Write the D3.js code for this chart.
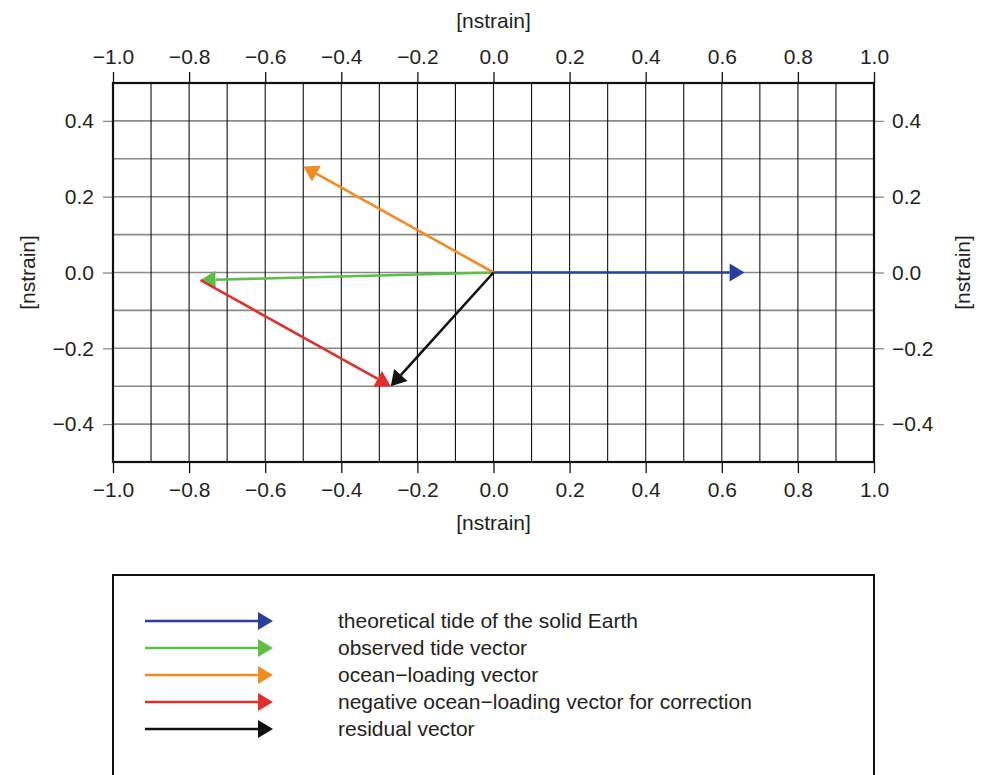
<!DOCTYPE html>
<html lang="en">
<head>
    <meta charset="UTF-8">
    <title>Tide vectors</title>
    <script src="https://cdn.jsdelivr.net/npm/d3@7"></script>
    <style>
        body { margin: 0; background: #fff; }
        svg text { font-family: "Liberation Sans", Arial, sans-serif; fill: #231f20; }
    </style>
</head>
<body>
    <svg id="main" width="982" height="775"></svg>
    <script>
        // vectors, in nstrain
        const vectorNames = [
            'theoretical tide of the solid Earth',
            'observed tide vector',
            'ocean\u2212loading vector',
            'negative ocean\u2212loading vector for correction',
            'residual vector'
        ];
        const vectorColors = ['#2b3f9c', '#5dbf45', '#f28b20', '#e0302a', '#111111'];
        const xStart = [0, 0, 0, -0.77, 0];
        const yStart = [0, 0, 0, -0.02, 0];
        const xEnd = [0.66, -0.77, -0.50, -0.27, -0.27];
        const yEnd = [0, -0.02, 0.28, -0.30, -0.30];

        const xTicks = [-1.0, -0.8, -0.6, -0.4, -0.2, 0.0, 0.2, 0.4, 0.6, 0.8, 1.0];
        const yTicks = [-0.4, -0.2, 0.0, 0.2, 0.4];
        const xGrid = d3.range(-9, 10).map(d => d / 10);
        const yGrid = d3.range(-4, 5).map(d => d / 10);
        const axisTitle = '[nstrain]';

        const svg = d3.select('#main');
        const pLeft = 113, pRight = 874, pTop = 83, pBottom = 462;
        const fs = 21;

        const x = d3.scaleLinear().domain([-1, 1]).range([pLeft, pRight]);
        const y = d3.scaleLinear().domain([-0.5, 0.5]).range([pBottom, pTop]);
        const fmt = d3.format('.1f');

        // grid
        svg.append('g').selectAll('line').data(yGrid).join('line')
            .attr('x1', pLeft).attr('x2', pRight)
            .attr('y1', d => y(d)).attr('y2', d => y(d))
            .attr('stroke', '#8a8a8a').attr('stroke-width', 1.6);
        svg.append('g').selectAll('line').data(xGrid).join('line')
            .attr('x1', d => x(d)).attr('x2', d => x(d))
            .attr('y1', pTop).attr('y2', pBottom)
            .attr('stroke', '#111').attr('stroke-width', 1.1);

        // axes
        function styleAxis(g, col) {
            g.select('.domain').remove();
            g.selectAll('.tick line').attr('stroke', col).attr('stroke-width', 1.3);
            g.selectAll('.tick text').attr('font-size', fs).attr('fill', '#231f20')
                .style('font-family', '"Liberation Sans", Arial, sans-serif');
        }
        svg.append('g').attr('transform', `translate(0,${pTop})`)
            .call(d3.axisTop(x).tickValues(xTicks).tickFormat(fmt).tickSize(11).tickPadding(8))
            .call(g => styleAxis(g, '#111'));
        svg.append('g').attr('transform', `translate(0,${pBottom})`)
            .call(d3.axisBottom(x).tickValues(xTicks).tickFormat(fmt).tickSize(11).tickPadding(9))
            .call(g => styleAxis(g, '#111'));
        svg.append('g').attr('transform', `translate(${pLeft},0)`)
            .call(d3.axisLeft(y).tickValues(yTicks).tickFormat(fmt).tickSize(10).tickPadding(9))
            .call(g => styleAxis(g, '#8a8a8a'));
        svg.append('g').attr('transform', `translate(${pRight},0)`)
            .call(d3.axisRight(y).tickValues(yTicks).tickFormat(fmt).tickSize(10).tickPadding(8))
            .call(g => styleAxis(g, '#8a8a8a'));

        // frame
        svg.append('rect')
            .attr('x', pLeft).attr('y', pTop)
            .attr('width', pRight - pLeft).attr('height', pBottom - pTop)
            .attr('fill', 'none').attr('stroke', '#111').attr('stroke-width', 2.2);

        // axis titles
        svg.append('text').attr('x', (pLeft + pRight) / 2).attr('y', 28)
            .attr('text-anchor', 'middle').attr('font-size', fs).text(axisTitle);
        svg.append('text').attr('x', (pLeft + pRight) / 2).attr('y', 530)
            .attr('text-anchor', 'middle').attr('font-size', fs).text(axisTitle);
        svg.append('text').attr('transform', `translate(35,${y(0)}) rotate(-90)`)
            .attr('text-anchor', 'middle').attr('font-size', fs).text(axisTitle);
        svg.append('text').attr('transform', `translate(970,${y(0)}) rotate(-90)`)
            .attr('text-anchor', 'middle').attr('font-size', fs).text(axisTitle);

        // arrow drawing helper (head tip at the end point)
        const headLen = 15, headHalf = 9;
        function arrow(g, x1, y1, x2, y2, col) {
            const a = Math.atan2(y2 - y1, x2 - x1);
            const bx = x2 - headLen * Math.cos(a), by = y2 - headLen * Math.sin(a);
            g.append('line')
                .attr('x1', x1).attr('y1', y1).attr('x2', bx).attr('y2', by)
                .attr('stroke', col).attr('stroke-width', 2.6);
            const px = -Math.sin(a) * headHalf, py = Math.cos(a) * headHalf;
            g.append('path')
                .attr('d', `M${x2},${y2}L${bx + px},${by + py}L${bx - px},${by - py}Z`)
                .attr('fill', col);
        }

        const vg = svg.append('g');
        vectorNames.forEach((n, i) => {
            arrow(vg, x(xStart[i]), y(yStart[i]), x(xEnd[i]), y(yEnd[i]), vectorColors[i]);
        });

        // legend
        const legTop = 575, rowY0 = 621, rowH = 27;
        svg.append('rect')
            .attr('x', pLeft).attr('y', legTop)
            .attr('width', pRight - pLeft).attr('height', 260)
            .attr('fill', 'none').attr('stroke', '#111').attr('stroke-width', 2);
        const lg = svg.append('g');
        vectorNames.forEach((n, i) => {
            const ry = rowY0 + i * rowH;
            arrow(lg, 145, ry, 273, ry, vectorColors[i]);
            lg.append('text').attr('x', 338).attr('y', ry)
                .attr('dy', '0.35em').attr('font-size', fs).text(n);
        });
    </script>
</body>
</html>
